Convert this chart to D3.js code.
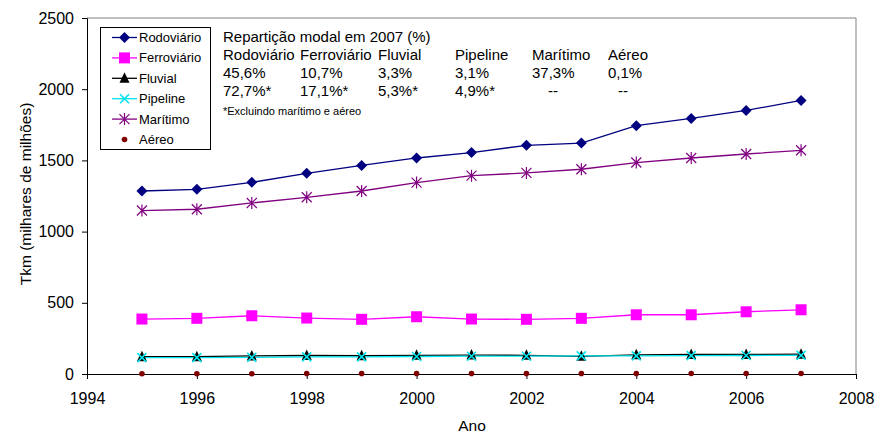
<!DOCTYPE html>
<html>
<head>
<meta charset="utf-8">
<script src="https://cdn.jsdelivr.net/npm/d3@7"></script>
<style>
  body { margin: 0; background: #fff; }
  svg { display: block; font-family: "Liberation Sans", Arial, sans-serif; }
</style>
</head>
<body>
<svg id="chart" width="875" height="434"></svg>
<script>
// Transport volume by mode, 1995-2007 (Tkm, thousands of millions)
const years = [1995, 1996, 1997, 1998, 1999, 2000, 2001, 2002, 2003, 2004, 2005, 2006, 2007];
const rodoviario  = [1285, 1297, 1346, 1409, 1465, 1517, 1555, 1606, 1622, 1744, 1795, 1851, 1921];
const ferroviario = [386, 391, 409, 393, 384, 402, 386, 384, 391, 416, 416, 437, 451];
const fluvial     = [122, 122, 127, 130, 128, 131, 133, 131, 124, 135, 137, 137, 139];
const pipeline    = [115, 115, 117, 120, 120, 123, 125, 125, 127, 127, 129, 130, 131];
const maritimo    = [1148, 1157, 1201, 1241, 1285, 1344, 1393, 1412, 1438, 1485, 1517, 1545, 1571];
const aereo       = [2, 2, 2, 3, 3, 3, 3, 3, 3, 3, 4, 4, 4];

const xTicks = [1994, 1996, 1998, 2000, 2002, 2004, 2006, 2008];
const yTicks = [0, 500, 1000, 1500, 2000, 2500];

// Modal split table for 2007
const shareTitle = "Repartição modal em 2007 (%)";
const shareModes = ["Rodoviário", "Ferroviário", "Fluvial", "Pipeline", "Marítimo", "Aéreo"];
const shareAll   = ["45,6%", "10,7%", "3,3%", "3,1%", "37,3%", "0,1%"];
const shareLand  = ["72,7%*", "17,1%*", "5,3%*", "4,9%*", "--", "--"];
const shareNote  = "*Excluindo marítimo e aéreo";

const series = [
  { name: "Rodoviário",  values: rodoviario,  color: "#000080", marker: "diamond", line: true },
  { name: "Ferroviário", values: ferroviario, color: "#FF00FF", marker: "square",  line: true },
  { name: "Fluvial",     values: fluvial,     color: "#000000", marker: "triangle", line: true },
  { name: "Pipeline",    values: pipeline,    color: "#00E5EE", marker: "x",       line: true },
  { name: "Marítimo",    values: maritimo,    color: "#800080", marker: "star",    line: true },
  { name: "Aéreo",       values: aereo,       color: "#800000", marker: "circle",  line: false }
];

const svg = d3.select("#chart");
const W = 875, H = 434;
const m = { left: 87, right: 19, top: 18, bottom: 60 };
const iw = W - m.left - m.right, ih = H - m.top - m.bottom;

const x = d3.scaleLinear().domain([1994, 2008]).range([m.left, m.left + iw]);
const y = d3.scaleLinear().domain([0, 2500]).range([m.top + ih, m.top]);

// Plot frame (top and right edges)
svg.append("path")
  .attr("d", `M${m.left},${m.top}H${m.left + iw}V${m.top + ih}`)
  .attr("fill", "none").attr("stroke", "#808080").attr("stroke-width", 1);

// Axes
const xAxis = svg.append("g").attr("transform", `translate(0,${m.top + ih})`)
  .call(d3.axisBottom(x).tickValues(xTicks).tickFormat(d3.format("d")).tickSize(5).tickPadding(13.5));
const yAxis = svg.append("g").attr("transform", `translate(${m.left},0)`)
  .call(d3.axisLeft(y).tickValues(yTicks).tickFormat(d3.format("d")).tickSize(5).tickPadding(8));
[xAxis, yAxis].forEach(g => {
  g.select(".domain").attr("stroke", "#000");
  g.selectAll(".tick line").attr("stroke", "#000");
  g.selectAll("text").attr("fill", "#000").style("font-size", "16px")
    .style("font-family", "'Liberation Sans', Arial, sans-serif");
});

// Axis titles
svg.append("text").attr("x", 472).attr("y", 431)
  .attr("text-anchor", "middle").style("font-size", "15.5px").text("Ano");
svg.append("text").attr("transform", `translate(31,194) rotate(-90)`)
  .attr("text-anchor", "middle").style("font-size", "15.5px").text("Tkm (milhares de milhões)");

// Marker shapes
function drawMarker(g, type, color) {
  if (type === "diamond") {
    g.append("path").attr("d", "M0,-5.5L5.5,0L0,5.5L-5.5,0Z").attr("fill", color);
  } else if (type === "square") {
    g.append("rect").attr("x", -5.5).attr("y", -5.5).attr("width", 11).attr("height", 11).attr("fill", color);
  } else if (type === "triangle") {
    g.append("path").attr("d", "M0,-6L5,4.5L-5,4.5Z").attr("fill", color);
  } else if (type === "x") {
    g.append("path").attr("d", "M-4.5,-4.5L4.5,4.5M-4.5,4.5L4.5,-4.5").attr("stroke", color).attr("stroke-width", 1.6);
  } else if (type === "star") {
    g.append("path").attr("d", "M-5,-5L5,5M-5,5L5,-5M0,-6V6").attr("stroke", color).attr("stroke-width", 1.2);
  } else if (type === "circle") {
    g.append("circle").attr("r", 2.8).attr("fill", color);
  }
}

const line = d3.line().x(d => x(d[0])).y(d => y(d[1]));

// Lines first, then markers on top
series.forEach(s => {
  const pts = years.map((yr, i) => [yr, s.values[i]]);
  if (s.line) {
    svg.append("path").datum(pts).attr("d", line)
      .attr("fill", "none").attr("stroke", s.color).attr("stroke-width", 1.3);
  }
});
series.forEach(s => {
  years.forEach((yr, i) => {
    const g = svg.append("g").attr("transform", `translate(${x(yr)},${y(s.values[i])})`);
    drawMarker(g, s.marker, s.color);
  });
});

// Legend
const lg = svg.append("g");
lg.append("rect").attr("x", 100.5).attr("y", 27.5).attr("width", 110).attr("height", 122)
  .attr("fill", "#fff").attr("stroke", "#000").attr("stroke-width", 1);
series.forEach((s, i) => {
  const cy = 37.5 + i * 20.4;
  if (s.line) {
    lg.append("line").attr("x1", 112).attr("x2", 137).attr("y1", cy).attr("y2", cy)
      .attr("stroke", s.color).attr("stroke-width", 1.3);
  }
  const g = lg.append("g").attr("transform", `translate(124.5,${cy})`);
  drawMarker(g, s.marker, s.color);
  lg.append("text").attr("x", 139).attr("y", cy + 4.5).style("font-size", "13px").text(s.name);
});

// Modal split table
const tbl = svg.append("g").style("font-size", "15px");
const colX = [223, 300, 378, 455, 532, 608];
const landX = [223, 300, 378, 455, 548, 618];
tbl.append("text").attr("x", 223).attr("y", 42).text(shareTitle);
shareModes.forEach((t, i) => tbl.append("text").attr("x", colX[i]).attr("y", 60).text(t));
shareAll.forEach((t, i) => tbl.append("text").attr("x", colX[i]).attr("y", 78).text(t));
shareLand.forEach((t, i) => tbl.append("text").attr("x", landX[i]).attr("y", 96).text(t));
tbl.append("text").attr("x", 223).attr("y", 115).style("font-size", "11px").text(shareNote);
</script>
</body>
</html>
